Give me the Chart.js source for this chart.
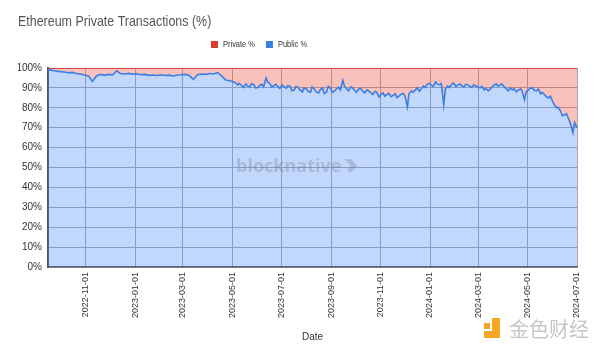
<!DOCTYPE html>
<html><head><meta charset="utf-8">
<script src="https://cdn.jsdelivr.net/npm/chart.js@4.4.1/dist/chart.umd.min.js"></script>
<style>html,body{margin:0;padding:0;background:#fff}#wrap{width:600px;height:351px;position:relative}</style>
</head><body><div id="wrap"><canvas id="c" width="600" height="351"></canvas></div>
<script>
const chartTitle = 'Ethereum Private Transactions (%)';
const seriesNames = ['Private %', 'Public %'];
const xAxisTitle = 'Date';
// main readings (every ~5 days)
const dates = [
 '2022-09-15','2022-09-20','2022-09-25','2022-09-30','2022-10-05','2022-10-10','2022-10-15','2022-10-20','2022-10-25','2022-10-30',
 '2022-11-04','2022-11-09','2022-11-14','2022-11-19','2022-11-24','2022-11-29','2022-12-04','2022-12-09','2022-12-14','2022-12-19',
 '2022-12-24','2022-12-29','2023-01-03','2023-01-08','2023-01-13','2023-01-18','2023-01-23','2023-01-28','2023-02-02','2023-02-07',
 '2023-02-12','2023-02-17','2023-02-22','2023-02-27','2023-03-04','2023-03-09','2023-03-14','2023-03-19','2023-03-24','2023-03-29',
 '2023-04-03','2023-04-08','2023-04-13','2023-04-18','2023-04-23','2023-04-28','2023-05-03','2023-05-08','2023-05-13','2023-05-18',
 '2023-05-23','2023-05-28','2023-06-02','2023-06-07','2023-06-12','2023-06-17','2023-06-22','2023-06-27','2023-07-02','2023-07-07',
 '2023-07-12','2023-07-17','2023-07-22','2023-07-27','2023-08-01','2023-08-06','2023-08-11','2023-08-16','2023-08-21','2023-08-26',
 '2023-08-31','2023-09-05','2023-09-10','2023-09-15','2023-09-20','2023-09-25','2023-09-30','2023-10-05','2023-10-10','2023-10-15',
 '2023-10-20','2023-10-25','2023-10-30','2023-11-04','2023-11-09','2023-11-14','2023-11-19','2023-11-24','2023-11-29','2023-12-04',
 '2023-12-09','2023-12-14','2023-12-19','2023-12-24','2023-12-29','2024-01-03','2024-01-08','2024-01-13','2024-01-18','2024-01-23',
 '2024-01-28','2024-02-02','2024-02-07','2024-02-12','2024-02-17','2024-02-22','2024-02-27','2024-03-03','2024-03-08','2024-03-13',
 '2024-03-18','2024-03-23','2024-03-28','2024-04-02','2024-04-07','2024-04-12','2024-04-17','2024-04-22','2024-04-27','2024-05-02',
 '2024-05-07','2024-05-12','2024-05-17','2024-05-22','2024-05-27','2024-06-01','2024-06-06','2024-06-11','2024-06-16','2024-06-21',
 '2024-06-26','2024-06-28','2024-07-01'
];
const publicPct = [
 99.3,98.8,98.5,98.2,98.0,97.6,97.8,97.2,97.0,96.5,
 96.0,93.3,96.0,96.8,96.3,96.8,96.5,98.6,97.2,97.0,
 97.3,96.9,97.1,96.6,96.8,96.3,96.5,96.2,96.6,96.2,
 96.4,96.0,96.5,96.6,96.8,96.2,94.3,96.6,97.0,96.8,
 97.2,97.0,97.7,96.0,94.0,93.6,93.0,91.5,91.0,92.0,
 90.5,91.5,90.2,91.8,95.0,92.0,91.2,90.5,91.5,89.8,
 90.8,89.0,90.2,88.0,89.5,87.8,89.3,87.5,90.0,88.0,
 89.8,88.5,90.3,93.8,89.5,90.5,88.7,89.6,88.2,89.0,
 87.5,88.3,85.4,87.5,86.8,85.5,87.0,86.0,87.2,80.4,
 88.5,89.0,88.3,91.0,92.0,91.3,93.0,91.5,81.5,91.0,
 91.8,90.8,92.0,90.5,91.5,90.3,91.0,90.0,89.0,88.5,
 90.5,92.0,91.5,90.5,88.5,89.0,88.0,89.5,84.0,89.0,
 90.0,88.5,87.0,86.5,85.0,83.0,80.0,78.0,76.5,74.0,
 67.5,72.5,70.0
];
// extra readings in the noisier period (between the main ones)
const datesExtra = [
 '2023-05-05','2023-05-10','2023-05-15','2023-05-20','2023-05-25','2023-05-30','2023-06-04','2023-06-09','2023-06-14','2023-06-19',
 '2023-06-24','2023-06-29','2023-07-04','2023-07-09','2023-07-14','2023-07-19','2023-07-24','2023-07-29','2023-08-03','2023-08-08',
 '2023-08-13','2023-08-18','2023-08-23','2023-08-28','2023-09-02','2023-09-07','2023-09-12','2023-09-17','2023-09-22','2023-09-27',
 '2023-10-02','2023-10-07','2023-10-12','2023-10-17','2023-10-22','2023-10-27','2023-11-01','2023-11-06','2023-11-11','2023-11-16',
 '2023-11-21','2023-11-26','2023-12-01','2023-12-06','2023-12-11','2023-12-16','2023-12-21','2023-12-26','2023-12-31','2024-01-05',
 '2024-01-10','2024-01-15','2024-01-20','2024-01-25','2024-01-30','2024-02-04','2024-02-09','2024-02-14','2024-02-19','2024-02-24',
 '2024-02-29','2024-03-05','2024-03-10','2024-03-15','2024-03-20','2024-03-25','2024-03-30','2024-04-04','2024-04-09','2024-04-14',
 '2024-04-19','2024-04-24','2024-04-29','2024-05-04','2024-05-09','2024-05-14','2024-05-19','2024-05-24','2024-05-29','2024-06-03',
 '2024-06-08','2024-06-13','2024-06-18','2024-06-23'
];
const publicPctExtra = [
 92.5,92.3,90.2,91.0,92.2,90.0,91.2,90.5,93.0,90.3,
 91.8,89.8,90.8,91.2,88.6,90.8,89.0,90.0,88.3,90.5,
 88.0,89.0,87.2,90.8,87.8,89.5,89.0,91.0,88.5,90.0,
 87.8,89.8,87.5,88.5,86.7,87.8,86.5,85.8,87.3,86.2,
 85.2,86.8,86.0,87.0,87.8,90.0,89.5,90.2,92.3,90.8,
 92.0,92.2,89.5,90.2,92.5,91.3,91.2,91.8,90.8,91.5,
 90.5,90.8,89.8,89.2,91.2,91.0,92.0,89.8,90.0,89.6,
 88.8,88.5,88.0,89.8,88.8,89.5,87.8,85.5,85.8,81.5,
 80.2,76.0,77.0,72.0
];
const xTickDates = ['2022-11-01','2023-01-01','2023-03-01','2023-05-01','2023-07-01','2023-09-01','2023-11-01','2024-01-01','2024-03-01','2024-05-01','2024-07-01'];
const yTickValues = [0,10,20,30,40,50,60,70,80,90,100];

const dayNum = s => Date.UTC(+s.slice(0,4), +s.slice(5,7)-1, +s.slice(8,10)) / 86400000;
const dayStr = d => new Date(Math.round(d) * 86400000).toISOString().slice(0,10);
const allRows = dates.map((d,i) => [dayNum(d), publicPct[i]])
  .concat(datesExtra.map((d,i) => [dayNum(d), publicPctExtra[i]]))
  .sort((a,b) => a[0] - b[0]);
const publicPts = allRows.map(r => ({x: r[0], y: r[1]}));
const privatePts = allRows.map(r => ({x: r[0], y: +(100 - r[1]).toFixed(2)}));

const RED = '#db3a2f', BLUE = '#3a7fe6';
const SANS = '"Liberation Sans", Arial, sans-serif';

const decor = {
  id: 'decor',
  afterDatasetsDraw(chart) {
    const ctx = chart.ctx;
    ctx.save();
    ctx.font = 'bold 18px "Open Sans"';
    ctx.fillStyle = 'rgba(110,120,140,0.30)';
    ctx.textBaseline = 'alphabetic';
    ctx.fillText('blocknative', 236, 172);
    ctx.beginPath();
    ctx.moveTo(344,159); ctx.lineTo(351,159); ctx.lineTo(357,166); ctx.lineTo(350,173); ctx.lineTo(347,170); ctx.lineTo(351,166);
    ctx.closePath(); ctx.fill();
    ctx.restore();
  },
  afterDraw(chart) {
    const ctx = chart.ctx;
    const SX = 0.83;
    ctx.save();
    ctx.fillStyle = '#555';
    ctx.font = '15px ' + SANS;
    ctx.textBaseline = 'alphabetic';
    ctx.save();
    ctx.translate(18, 26); ctx.scale(SX, 1);
    ctx.fillText(chartTitle, 0, 0);
    ctx.restore();
    ctx.font = '9px ' + SANS;
    ctx.textBaseline = 'middle';
    let x = 211;
    const items = [[seriesNames[0], RED], [seriesNames[1], BLUE]];
    for (const [t, c] of items) {
      ctx.fillStyle = c;
      ctx.fillRect(x, 41, 7, 7);
      ctx.fillStyle = '#333';
      ctx.save();
      ctx.translate(x + 12, 45); ctx.scale(SX, 1);
      ctx.fillText(t, 0, 0);
      ctx.restore();
      x += 12 + ctx.measureText(t).width * SX + 11;
    }
    ctx.fillStyle = '#f3a722';
    ctx.fillRect(484, 323, 6, 6);
    ctx.fillRect(492, 318, 8, 20);
    ctx.fillRect(484, 331, 16, 7);
    ctx.font = '20px "Noto Sans CJK SC"';
    ctx.textBaseline = 'alphabetic';
    ctx.fillStyle = 'rgba(195,195,195,0.95)';
    ctx.fillText('金色财经', 509, 337);
    ctx.restore();
  }
};

new Chart(document.getElementById('c'), {
  type: 'line',
  data: {
    datasets: [
      {label: seriesNames[1], data: publicPts, borderColor: BLUE, backgroundColor: 'rgba(66,133,244,0.33)', fill: 'origin', borderWidth: 1.6, pointRadius: 0, tension: 0},
      {label: seriesNames[0], data: privatePts, borderColor: RED, backgroundColor: 'rgba(234,67,53,0.33)', fill: '-1', borderWidth: 1.5, pointRadius: 0, tension: 0}
    ]
  },
  options: {
    responsive: false,
    animation: false,
    layout: {padding: {left: 18, right: 23, top: 68, bottom: 0}},
    plugins: {legend: {display: false}, title: {display: false}, tooltip: {enabled: false}},
    scales: {
      x: {
        type: 'linear',
        min: dayNum(dates[0]), max: dayNum(dates[dates.length - 1]),
        afterBuildTicks: s => { s.ticks = xTickDates.map(d => ({value: dayNum(d)})); },
        afterFit: s => { s.height = 84; },
        ticks: {autoSkip: false, minRotation: 90, maxRotation: 90, padding: 5, color: '#333', font: {size: 9, family: SANS}, callback: v => dayStr(v)},
        grid: {color: '#a9a9a9', drawTicks: false},
        border: {display: true, color: '#555', width: 1.5},
        title: {display: true, text: xAxisTitle, color: '#333', font: {size: 10, family: SANS}, padding: {top: 0, bottom: 8}}
      },
      y: {
        stacked: true,
        min: 0, max: 100,
        afterBuildTicks: s => { s.ticks = yTickValues.map(v => ({value: v})); },
        afterFit: s => { s.width = 30; },
        ticks: {padding: 6, color: '#333', font: {size: 10, family: SANS}, callback: v => v + '%'},
        grid: {color: '#a9a9a9', drawTicks: false},
        border: {display: true, color: '#555', width: 2}
      }
    }
  },
  plugins: [decor]
});
</script>
</body></html>
